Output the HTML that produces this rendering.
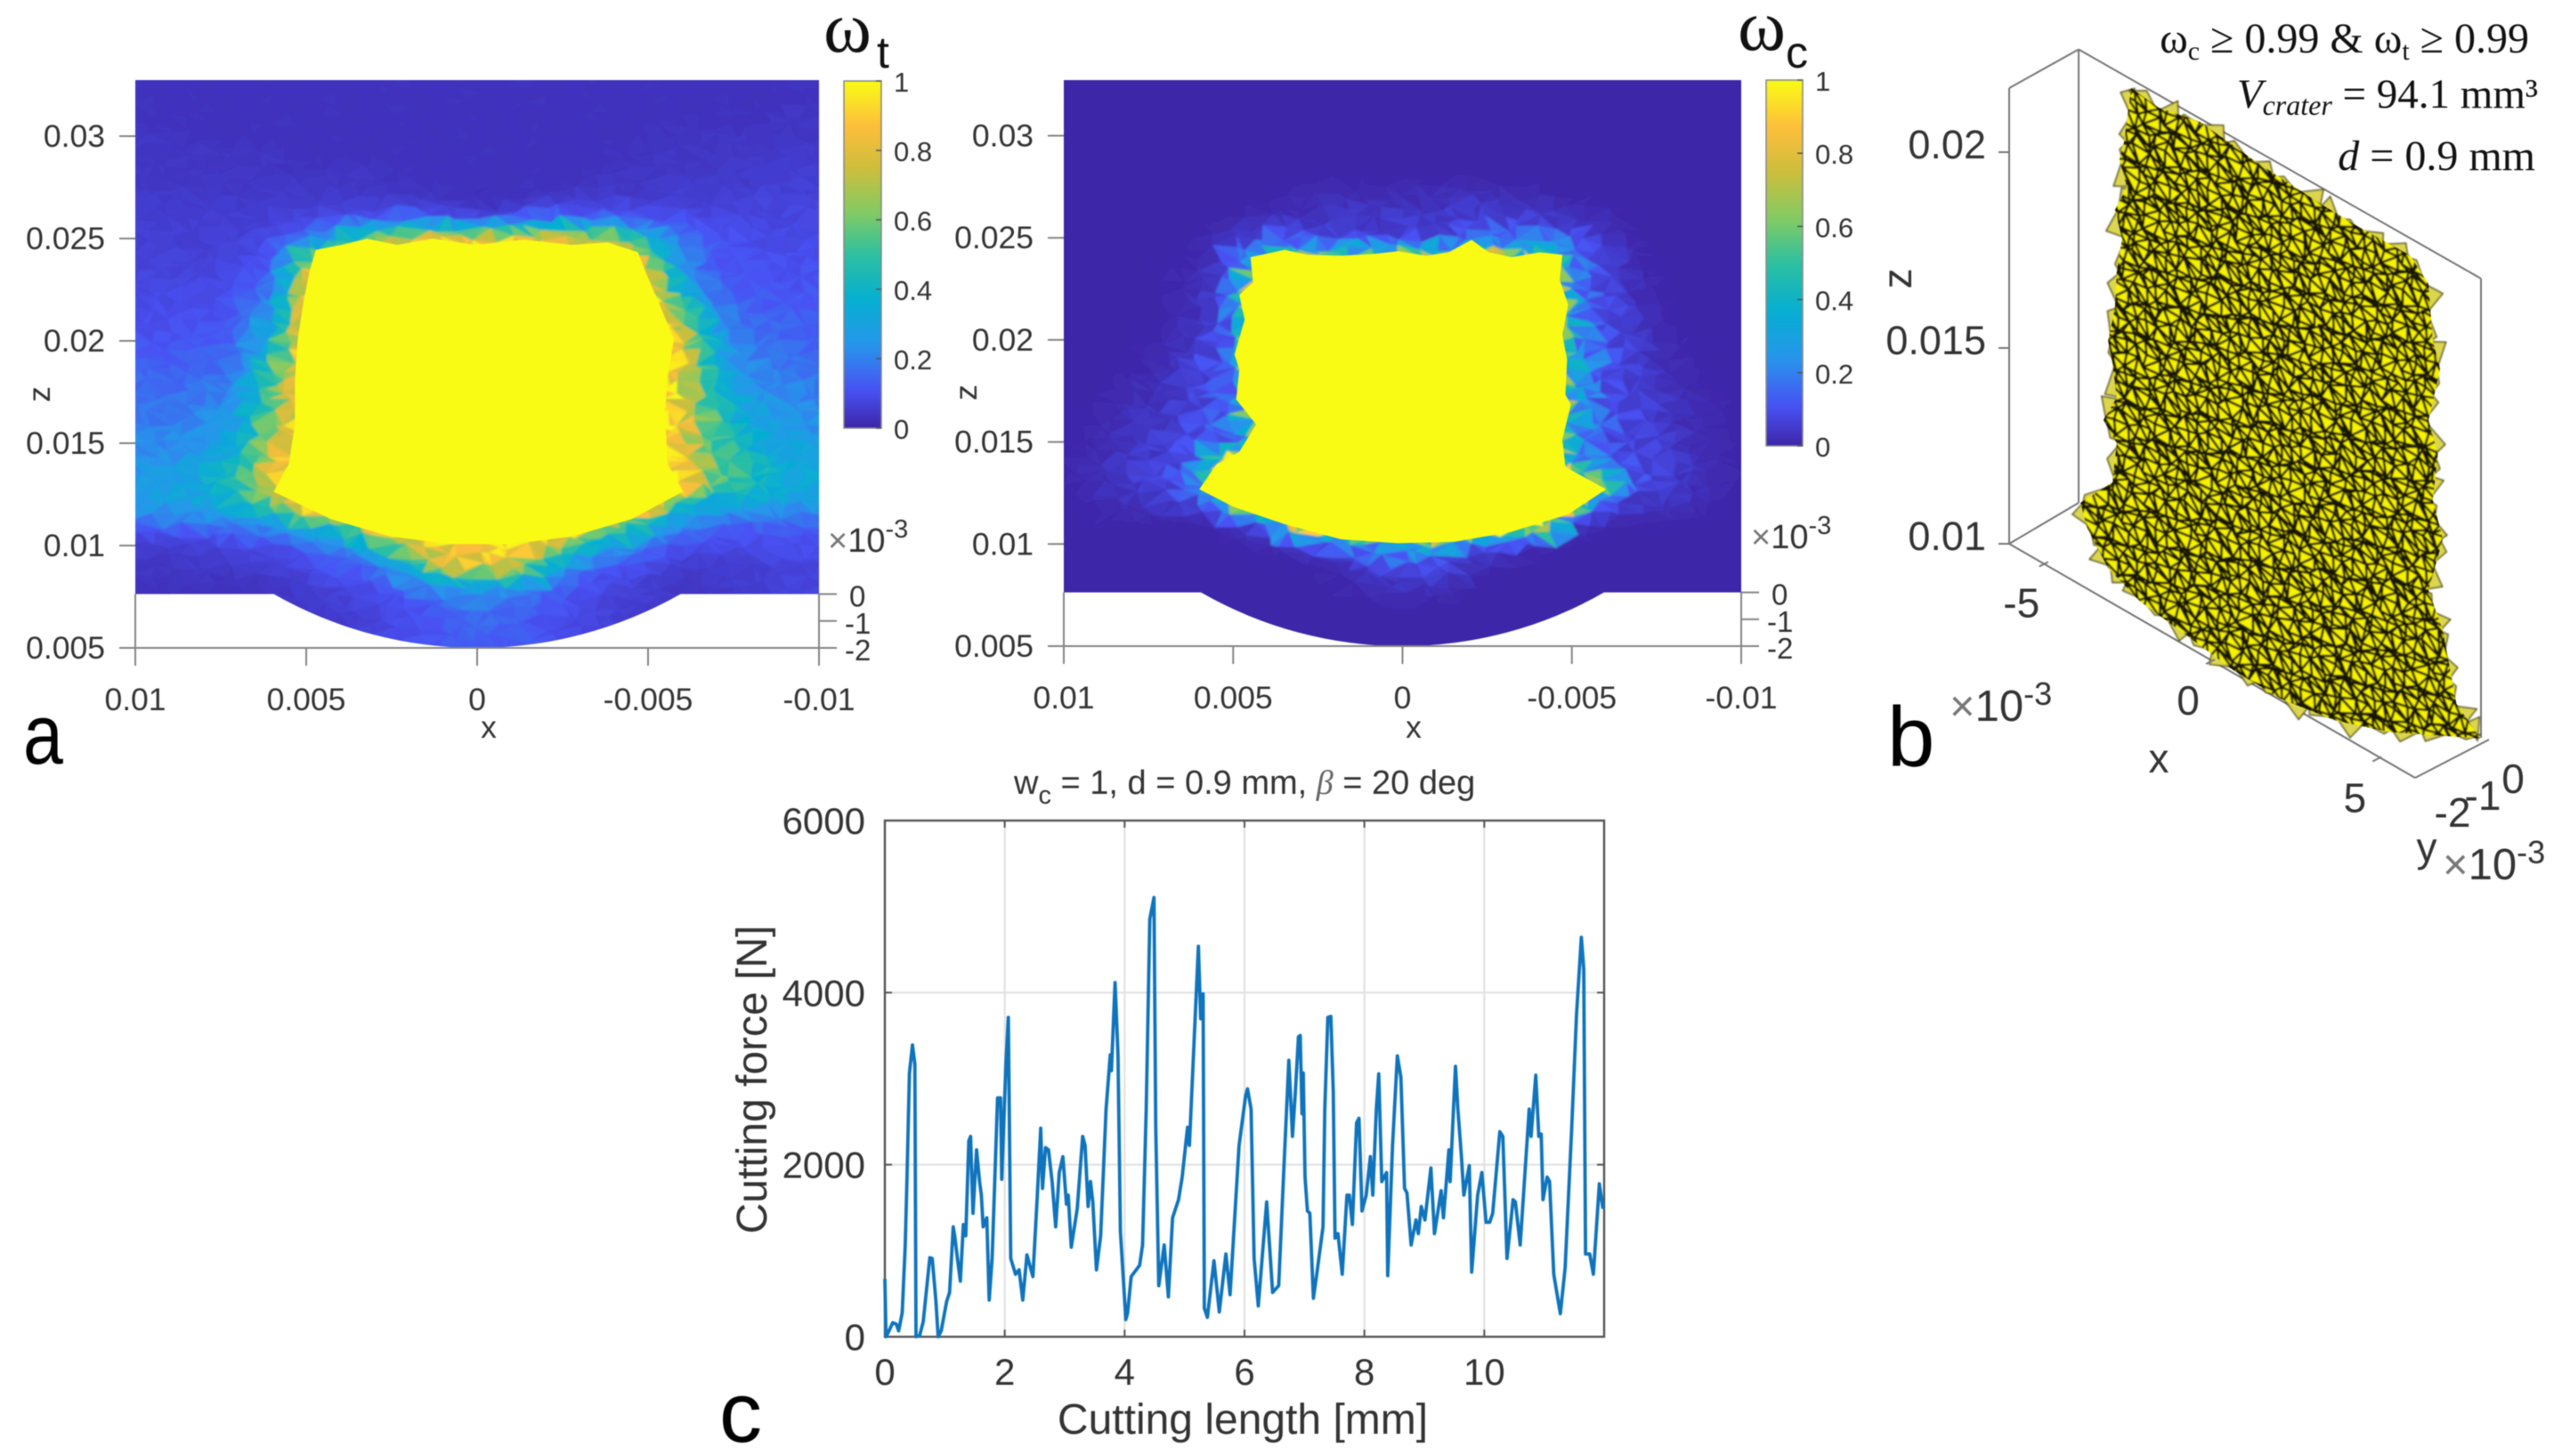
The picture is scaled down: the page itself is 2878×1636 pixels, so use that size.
<!DOCTYPE html>
<html lang="en">
<head>
<meta charset="utf-8">
<title>Damage maps, crater mesh and cutting force</title>
<style>
html,body{margin:0;padding:0;background:#fff;width:2878px;height:1636px;overflow:hidden}
svg{display:block;filter:blur(0.6px)}
text{font-family:"Liberation Sans",sans-serif;fill:#333}
.t35{font-size:35.5px}
.t31{font-size:31px}
.t33{font-size:33px}
.t38{font-size:38px}
.t46{font-size:46px}
.t45{font-size:45px}
.t49{font-size:49px}
.t42{font-size:42px}
.letter{font-size:96px;fill:#000}
.serif{font-family:"Liberation Serif",serif;fill:#111}
</style>
</head>
<body>
<svg id="figure" xmlns="http://www.w3.org/2000/svg" width="2878" height="1636" viewBox="0 0 2878 1636">
  <defs>
    <filter id="meshBlur" x="-5%" y="-5%" width="110%" height="110%"><feGaussianBlur stdDeviation="1.1"/></filter>
    <filter id="craterBlur" x="-5%" y="-5%" width="110%" height="110%"><feGaussianBlur stdDeviation="0.85"/></filter>
  </defs>
  <rect width="2878" height="1636" fill="#fff"/>

  <g id="panelA"></g>
  <g id="panelC"></g>
  <g id="panelB"></g>
  <g id="panelF"></g>

  <text class="serif" x="925" y="58" font-size="82">ω</text>
  <text x="985" y="76" font-size="50" style="fill:#111">t</text>
  <text class="serif" x="1952" y="56" font-size="82">ω</text>
  <text x="2006" y="76" font-size="50" style="fill:#111">c</text>

  <text class="letter" transform="translate(26,858) scale(0.84,1)">a</text>
  <text class="letter" x="2120" y="861">b</text>
  <text class="letter" x="808" y="1620">c</text>

  <text class="t35" x="549" y="829" text-anchor="middle">x</text>
  <text class="t35" transform="translate(56,443) rotate(-90)" text-anchor="middle">z</text>
  <text class="t35" x="1588" y="829" text-anchor="middle">x</text>
  <text class="t35" transform="translate(1097,441) rotate(-90)" text-anchor="middle">z</text>

  <text class="t38" x="930" y="620"><tspan fill="#777">×</tspan>10<tspan font-size="29" dy="-16">-3</tspan></text>
  <text class="t38" x="1967" y="616"><tspan fill="#777">×</tspan>10<tspan font-size="29" dy="-16">-3</tspan></text>

  <text class="serif" x="2841" y="59" text-anchor="end" font-size="48">ω<tspan font-size="30" dy="8">c</tspan><tspan dy="-8"> ≥ 0.99 &amp; ω</tspan><tspan font-size="30" dy="8">t</tspan><tspan dy="-8"> ≥ 0.99</tspan></text>
  <text class="serif" x="2851" y="121" text-anchor="end" font-size="47"><tspan font-style="italic">V</tspan><tspan font-style="italic" font-size="32" dy="8">crater</tspan><tspan dy="-8"> = 94.1 mm³</tspan></text>
  <text class="serif" x="2848" y="191" text-anchor="end" font-size="48"><tspan font-style="italic">d</tspan> = 0.9 mm</text>

  <text class="t46" transform="translate(2147,313) rotate(-90)" text-anchor="middle">z</text>
  <text class="t46" x="2425" y="868" text-anchor="middle">x</text>
  <text class="t46" x="2726" y="968" text-anchor="middle">y</text>
  <text class="t49" x="2190" y="810"><tspan fill="#777">×</tspan>10<tspan font-size="36" dy="-18">-3</tspan></text>
  <text class="t49" x="2744" y="988"><tspan fill="#777">×</tspan>10<tspan font-size="36" dy="-18">-3</tspan></text>

  <text x="1139" y="892" font-size="38">w<tspan font-size="29" dy="11">c</tspan><tspan dy="-11"> = 1, d = 0.9 mm,  </tspan><tspan font-style="italic" font-family="Liberation Serif" fill="#666">β</tspan> = 20 deg</text>
  <text font-size="48" transform="translate(861,1213) rotate(-90)" text-anchor="middle">Cutting force [N]</text>
  <text font-size="48" x="1396" y="1611" text-anchor="middle">Cutting length [mm]</text>
</svg>

<script>
// ---- damage maps: node coordinates (mm) ----
const gridXmm = [10,9,8,7,6,5,4,3,2,1,0,-1,-2,-3,-4,-5,-6,-7,-8,-9,-10];
const gridZmm = [33,32,31,30,29,28,27,26,25,24,23,22,21,20,19,18,17,16,15,14,13,12,11,10,9,8,7,6,5];

// tensile damage omega_t (percent) read per node
const tensileDamage = [
[3,3,3,3,3,3,3,3,3,3,3,3,3,3,3,3,3,3,3,3,3],
[3,3,3,3,3,3,3,3,3,3,3,3,3,3,3,3,3,3,3,3,4],
[3,3,3,3,3,3,3,3,3,3,3,3,3,3,3,3,3,3,3,4,4],
[4,4,3,3,3,3,3,3,3,3,3,3,3,3,3,3,4,4,4,4,4],
[4,4,4,4,4,3,3,3,3,3,3,3,3,3,3,4,4,4,5,5,5],
[4,4,4,4,4,4,4,4,3,3,3,3,3,3,4,4,5,5,5,6,6],
[5,5,5,5,5,5,5,4,4,4,2,3,4,5,5,5,6,6,7,7,7],
[6,6,6,6,6,8,9,11,12,10,6,10,12,14,13,10,9,8,8,8,8],
[6,6,6,7,9,16,35,62,78,85,85,85,82,78,62,35,18,12,9,9,9],
[7,7,7,8,11,60,100,100,100,100,100,100,100,100,100,70,18,12,10,10,10],
[8,8,8,9,16,75,100,100,100,100,100,100,100,100,100,90,25,13,11,11,11],
[9,9,9,11,22,85,100,100,100,100,100,100,100,100,100,100,45,16,13,12,12],
[10,10,10,13,30,90,100,100,100,100,100,100,100,100,100,100,70,22,15,14,13],
[11,11,12,15,35,95,100,100,100,100,100,100,100,100,100,100,80,28,18,15,14],
[13,13,14,17,45,95,100,100,100,100,100,100,100,100,100,100,85,33,20,17,16],
[15,15,16,21,55,95,100,100,100,100,100,100,100,100,100,100,85,38,23,20,18],
[17,17,19,26,58,95,100,100,100,100,100,100,100,100,100,100,85,43,28,23,20],
[19,20,22,30,60,95,100,100,100,100,100,100,100,100,100,100,85,48,33,26,22],
[21,22,25,33,72,95,100,100,100,100,100,100,100,100,100,100,80,50,36,30,26],
[23,25,30,42,80,100,100,100,100,100,100,100,100,100,100,100,85,58,42,36,30],
[27,28,35,48,90,100,100,100,100,100,100,100,100,100,100,100,100,55,45,38,33],
[28,28,32,38,55,100,100,100,100,100,100,100,100,100,100,100,35,32,30,27,25],
[14,14,16,18,25,38,50,100,100,100,100,100,100,100,60,38,20,14,13,13,13],
[5,5,6,8,9,14,20,40,72,90,90,90,82,40,28,16,10,8,9,10,10],
[4,4,5,5,6,8,12,16,38,78,85,78,42,15,12,8,5,5,6,7,8],
[3,3,3,3,4,6,8,10,15,22,28,25,17,10,8,6,4,5,6,7,8],
[3,3,3,3,4,5,6,8,10,14,18,14,12,9,7,5,4,4,5,6,6],
[3,3,3,3,3,4,5,8,9,12,14,14,10,8,6,4,4,4,4,4,4],
[3,3,3,3,3,4,6,9,10,12,13,13,11,9,7,4,4,4,4,4,4]
];

// compressive damage omega_c (percent) read per node
const compressiveDamage = [
[0,0,0,0,0,0,0,0,0,0,0,0,0,0,0,0,0,0,0,0,0],
[0,0,0,0,0,0,0,0,0,0,0,0,0,0,0,0,0,0,0,0,0],
[0,0,0,0,0,0,0,0,0,0,0,0,0,0,0,0,0,0,0,0,0],
[0,0,0,0,0,0,0,0,0,0,0,0,0,0,0,0,0,0,0,0,0],
[0,0,0,0,0,0,0,0,0,0,0,0,0,0,0,0,0,0,0,0,0],
[0,0,0,0,0,0,0,0,0,0,0,0,0,0,0,0,0,0,0,0,0],
[0,0,0,0,0,0,0,1,2,2,2,3,3,2,1,0,0,0,0,0,0],
[0,0,0,0,0,0,2,3,4,5,5,4,7,8,5,3,1,0,0,0,0],
[0,0,0,0,0,4,10,10,7,7,6,7,12,16,14,12,3,0,0,0,0],
[0,0,0,0,1,8,50,55,60,55,60,55,65,70,65,25,6,1,0,0,0],
[0,0,0,0,2,10,100,100,100,100,100,100,100,100,100,20,6,1,0,0,0],
[0,0,0,0,3,12,100,100,100,100,100,100,100,100,100,25,8,2,0,0,0],
[0,0,0,0,3,14,100,100,100,100,100,100,100,100,100,25,10,3,0,0,0],
[0,0,0,1,4,16,100,100,100,100,100,100,100,100,100,28,10,4,1,0,0],
[0,0,0,2,6,16,100,100,100,100,100,100,100,100,100,28,12,5,1,0,0],
[0,0,1,3,7,16,100,100,100,100,100,100,100,100,100,28,10,5,2,0,0],
[0,0,2,4,8,14,100,100,100,100,100,100,100,100,100,32,12,7,3,1,0],
[0,1,3,5,9,18,90,100,100,100,100,100,100,100,100,28,12,7,3,1,0],
[0,1,4,6,10,14,50,100,100,100,100,100,100,100,100,26,10,8,4,1,0],
[0,2,5,7,14,100,100,100,100,100,100,100,100,100,100,30,10,8,5,2,0],
[0,2,5,7,30,100,100,100,100,100,100,100,100,100,100,100,50,9,5,2,0],
[0,1,3,4,7,45,100,100,100,100,100,100,100,100,100,70,6,4,3,1,0],
[0,0,0,0,0,2,12,100,100,100,100,100,100,100,100,5,0,0,0,0,0],
[0,0,0,0,0,0,1,4,10,28,35,32,12,4,1,0,0,0,0,0,0],
[0,0,0,0,0,0,0,0,1,6,10,8,3,0,0,0,0,0,0,0,0],
[0,0,0,0,0,0,0,0,0,2,4,3,0,0,0,0,0,0,0,0,0],
[0,0,0,0,0,0,0,0,0,0,0,0,0,0,0,0,0,0,0,0,0],
[0,0,0,0,0,0,0,0,0,0,0,0,0,0,0,0,0,0,0,0,0],
[0,0,0,0,0,0,0,0,0,0,0,0,0,0,0,0,0,0,0,0,0]
];

// fully damaged region outlines (mm)
const tensileCoreX = [4.72,4.10,3.22,2.34,1.29,0.05,-1.36,-2.76,-3.82,-4.70,-4.96,-5.40,-5.76,-5.58,-5.49,-5.58,-6.02,-4.52,-2.76,-1.0,0.76,2.52,4.28,5.95,5.51,5.33,5.33,5.25,5.07,4.89];
const tensileCoreZ = [24.45,24.64,24.99,24.69,24.99,24.69,24.94,24.69,24.81,24.33,23.23,21.52,20.06,18.36,16.41,13.97,12.63,11.29,10.44,10.07,10.07,10.44,11.29,12.63,13.97,15.92,18.11,20.06,22.01,23.47];
const compressiveCoreX = [4.49,3.48,2.81,1.81,0.80,0.13,-0.70,-1.37,-2.04,-2.55,-3.22,-4.05,-4.72,-4.64,-4.89,-4.72,-4.86,-4.81,-4.97,-4.72,-4.81,-6.01,-4.89,-3.22,-1.54,0.13,1.81,3.48,4.99,6.0,5.49,4.82,4.32,4.91,4.82,4.96,4.66,4.82,4.41];
const compressiveCoreZ = [24.05,24.41,24.17,24.12,24.22,24.34,24.12,24.29,24.90,24.29,24.05,24.29,24.17,22.95,21.72,20.26,19.03,17.32,16.83,15.12,13.78,12.68,11.45,10.60,10.11,10.04,10.23,10.97,11.82,12.68,13.90,14.51,15.86,17.08,18.55,19.28,20.99,22.21,22.82];

const damageXTicks = [0.01,0.005,0,-0.005,-0.01];
const damageXLabels = ['0.01','0.005','0','-0.005','-0.01'];
const damageZTicks = [0.03,0.025,0.02,0.015,0.01,0.005];
const damageZLabels = ['0.03','0.025','0.02','0.015','0.01','0.005'];
const depthTicks = [0,-1,-2];
const depthLabels = ['0','-1','-2'];
const colorbarTicks = [1,0.8,0.6,0.4,0.2,0];
const colorbarLabels = ['1','0.8','0.6','0.4','0.2','0'];

// ---- crater surface outline (x mm, z mm) ----
const craterX = [-4.48,-4.69,-4.83,-4.61,-4.96,-4.75,-4.91,-4.96,-5.17,-5.04,-4.91,-5.31,-4.91,-5.04,-6,-5.8,-5.17,-4.2,-2.8,-1.41,-0.02,1.66,3.32,6,5.28,4.87,4.44,4.87,4.57,4.72,4.44,4.79,4.57,4.44,3.88,2.36,1.24,-0.85,-2.4,-3.65];
const craterZ = [24.03,22.55,22.03,21.43,20.68,20.05,19.11,18.21,17.23,16.73,15.91,15.14,14.75,13.68,12.68,12.14,11.43,11.05,10.88,10.69,10.66,10.93,11.46,12.64,13.16,14.84,15.64,17.16,18.02,19.26,19.99,21.47,22.08,23.47,23.92,23.88,23.9,24.02,24.2,23.94];
const craterZTicks = [0.02,0.015,0.01];
const craterZLabels = ['0.02','0.015','0.01'];
const craterXTicks = [-5,0,5];
const craterXLabels = ['-5','0','5'];
const craterYLabels = ['0','-1','-2'];
const meshNudge = [0.31,-0.22,0.08,-0.36,0.17,0.38,-0.12,-0.29,0.24,-0.05,0.34,-0.38,0.12,0.27,-0.18,-0.33,0.02,0.36,-0.25,0.2,-0.08,0.29,-0.15];

// ---- cutting force trace ----
const cuttingLength = [0,0.02,0.07,0.13,0.19,0.23,0.29,0.34,0.37,0.41,0.46,0.50,0.52,0.58,0.64,0.75,0.79,0.85,0.89,0.94,1.03,1.08,1.14,1.17,1.21,1.26,1.31,1.35,1.40,1.43,1.47,1.53,1.58,1.61,1.64,1.70,1.74,1.79,1.88,1.93,1.95,2.02,2.06,2.10,2.18,2.24,2.30,2.37,2.47,2.54,2.60,2.63,2.68,2.73,2.79,2.85,2.91,2.97,3.03,3.06,3.11,3.21,3.30,3.34,3.39,3.43,3.47,3.53,3.60,3.69,3.76,3.78,3.84,3.89,3.93,4.02,4.05,4.11,4.25,4.30,4.36,4.42,4.49,4.52,4.57,4.66,4.73,4.80,4.90,4.96,5.05,5.08,5.23,5.27,5.31,5.33,5.38,5.49,5.58,5.69,5.76,5.91,6.02,6.05,6.11,6.16,6.23,6.37,6.47,6.57,6.65,6.74,6.80,6.85,6.90,6.93,6.96,6.98,7.01,7.05,7.09,7.15,7.20,7.31,7.34,7.39,7.44,7.48,7.51,7.56,7.63,7.71,7.75,7.80,7.87,7.91,7.96,8.03,8.10,8.14,8.20,8.24,8.29,8.37,8.39,8.47,8.55,8.61,8.67,8.71,8.78,8.86,8.90,8.95,9.01,9.11,9.17,9.28,9.32,9.41,9.43,9.52,9.56,9.62,9.66,9.75,9.79,9.89,9.96,10.03,10.09,10.14,10.26,10.31,10.38,10.48,10.52,10.60,10.67,10.75,10.78,10.86,10.91,10.95,10.98,11.05,11.09,11.16,11.27,11.35,11.46,11.54,11.62,11.66,11.69,11.76,11.82,11.92,11.98];
const cuttingForce = [673,0,68,163,147,68,279,1067,1856,3065,3391,3171,0,16,174,920,910,436,0,68,410,515,1278,1146,910,647,1304,1173,2277,2329,1435,2172,1803,1646,1278,1383,426,910,2776,2776,1830,3171,3712,910,726,778,426,952,699,1593,2424,1725,2198,2172,1803,1278,1909,2093,1541,1646,1041,1488,2329,2224,1514,1803,1567,778,1173,2645,3276,3092,4117,3276,1225,200,279,699,831,1067,2645,4853,5105,2434,594,1067,463,1383,1593,1856,2434,2224,4538,3696,3985,331,226,883,289,962,489,2224,2803,2881,2645,910,358,1567,515,594,1856,3213,2329,2855,3486,3502,2592,3065,1856,1462,1435,447,699,1278,2645,3712,3723,2855,1146,1199,726,1646,1646,1304,2487,2540,1462,1646,2093,1646,2645,3055,1803,1909,710,2224,3265,3013,1725,1672,1067,1357,1199,1514,1357,1961,1199,1698,1383,2172,1803,3144,2645,2093,1646,1988,752,1646,1909,1330,1330,1435,2382,2329,910,1593,1567,1067,1803,2645,2329,3039,2329,2356,1593,1856,1803,726,268,804,2434,3749,4643,4275,962,962,726,1777,1488];
const forceXTicks = [0,2,4,6,8,10];
const forceXLabels = ['0','2','4','6','8','10'];
const forceYTicks = [0,2000,4000,6000];
const forceYLabels = ['0','2000','4000','6000'];

const NS = 'http://www.w3.org/2000/svg';
function make(tag, attrs, parent, text) {
  const n = document.createElementNS(NS, tag);
  for (const k in attrs) n.setAttribute(k, attrs[k]);
  if (text !== undefined) n.textContent = text;
  parent.appendChild(n);
  return n;
}

const parulaPos = [0,0.11,0.24,0.37,0.5,0.62,0.75,0.87,1];
const parulaRGB = [[62,38,168],[72,82,244],[39,150,235],[6,175,210],[46,192,160],[130,203,100],[205,190,60],[253,190,60],[249,251,20]];
function parula(t) {
  t = Math.max(0, Math.min(1, t));
  let i = 0;
  while (i < parulaPos.length - 2 && t > parulaPos[i + 1]) i++;
  const f = (t - parulaPos[i]) / (parulaPos[i + 1] - parulaPos[i]);
  const c = [0,1,2].map(k => Math.round(parulaRGB[i][k] + f * (parulaRGB[i + 1][k] - parulaRGB[i][k])));
  return 'rgb(' + c.join(',') + ')';
}

// bilinear lookup into a node table, so small display triangles take their shade from the read nodes
function sampleGrid(grid, xmm, zmm) {
  const cf = Math.max(0, Math.min(gridXmm.length - 1.001, gridXmm[0] - xmm));
  const rf = Math.max(0, Math.min(gridZmm.length - 1.001, gridZmm[0] - zmm));
  const c = Math.floor(cf), r = Math.floor(rf), u = cf - c, v = rf - r;
  return (grid[r][c] * (1 - u) + grid[r][c + 1] * u) * (1 - v) + (grid[r + 1][c] * (1 - u) + grid[r + 1][c + 1] * u) * v;
}

function drawDamagePanel(cfg) {
  const root = document.getElementById(cfg.root);
  const sx = mm => cfg.left + (10 - mm) * (cfg.right - cfg.left) / 20;
  const sz = mm => cfg.bottom - (mm - 5) * cfg.zScale;
  const clipId = cfg.root + 'Clip';

  const chordL = sx(5.95), chordR = sx(-5.95), flat = sz(7.63);
  const half = (chordR - chordL) / 2, sag = cfg.bottom - flat;
  const R = (half * half + sag * sag) / (2 * sag);
  const clip = make('clipPath', {id: clipId}, root);
  const clipShape = make('path', {d: 'M' + cfg.left + ' ' + cfg.top + 'H' + cfg.right + 'V' + flat + 'H' + chordR + 'A' + R + ' ' + R + ' 0 0 1 ' + chordL + ' ' + flat + 'H' + cfg.left + 'Z'}, clip);
  
  

  const clipped = make('g', {'clip-path': 'url(#' + clipId + ')'}, root);
  
  
  const blurred = make('g', {filter: 'url(#meshBlur)'}, clipped);
  
  

  const under = make('rect', {x: cfg.left - 30, y: cfg.top - 30, width: cfg.right - cfg.left + 60, height: cfg.bottom - cfg.top + 60, fill: parula(cfg.grid[0][10] / 100)}, blurred);
  
  

  // irregular display triangles, half a node spacing wide
  const L = meshNudge.length, h = 0.5;
  const nodes = {};
  const node = (i, j) => {
    const key = i + '_' + j;
    if (!nodes[key]) nodes[key] = [
      -10.5 + (i + meshNudge[(i * 7 + j * 13) % L]) * h,
      4.5 + (j + meshNudge[(i * 11 + j * 5) % L]) * h
    ];
    return nodes[key];
  };
  for (let i = 0; i < 44; i++) {
    for (let j = 0; j < 60; j++) {
      const a = node(i, j), b = node(i + 1, j), c = node(i + 1, j + 1), d = node(i, j + 1);
      const faces = (i * 3 + j * 5) % 7 < 4 ? [[a, b, c], [a, c, d]] : [[a, b, d], [b, c, d]];
      faces.forEach((tri, k) => {
        const mean = tri.reduce((s, p) => s + sampleGrid(cfg.grid, p[0], p[1]), 0) / 300;
        const shade = mean * (1 + cfg.patchiness * meshNudge[(i * 5 + j * 3 + k * 9) % L]);
        const col = parula(shade);
        const pts = tri.map(p => sx(p[0]).toFixed(1) + ',' + sz(p[1]).toFixed(1)).join(' ');
        const cell = make('polygon', {points: pts, fill: col, stroke: col, 'stroke-width': 0.6}, blurred);
        
        
      });
    }
  }
  const corePts = cfg.coreX.map((x, i) => sx(x).toFixed(1) + ',' + sz(cfg.coreZ[i]).toFixed(1)).join(' ');
  const core = make('polygon', {points: corePts, fill: parula(1)}, clipped);
  
  

  const axisColor = '#858585';
  const baseLine = make('line', {x1: cfg.left, x2: cfg.right, y1: cfg.bottom, y2: cfg.bottom, stroke: axisColor, 'stroke-width': 2}, root);
  
  
  const leftLine = make('line', {x1: cfg.left, x2: cfg.left, y1: flat, y2: cfg.bottom + 20, stroke: axisColor, 'stroke-width': 2}, root);
  
  
  const rightLine = make('line', {x1: cfg.right, x2: cfg.right, y1: flat, y2: cfg.bottom + 20, stroke: axisColor, 'stroke-width': 2}, root);
  
  

  damageXTicks.forEach((v, i) => {
    const x = sx(v * 1000);
    const tick = make('line', {x1: x, x2: x, y1: cfg.bottom, y2: cfg.bottom + 20, stroke: axisColor, 'stroke-width': 2}, root);
    
    
    const label = make('text', {x: x, y: cfg.bottom + 70, 'text-anchor': 'middle', class: 't35'}, root, damageXLabels[i]);
    
    
  });
  damageZTicks.forEach((v, i) => {
    const y = sz(v * 1000);
    const tick = make('line', {x1: cfg.left - 18, x2: cfg.left, y1: y, y2: y, stroke: axisColor, 'stroke-width': 2}, root);
    
    
    const label = make('text', {x: cfg.left - 34, y: y + 12, 'text-anchor': 'end', class: 't35'}, root, damageZLabels[i]);
    
    
  });
  const depthScale = (cfg.bottom - flat) / 2;
  depthTicks.forEach((v, i) => {
    const y = flat - v * depthScale;
    const tick = make('line', {x1: cfg.right, x2: cfg.right + 20, y1: y, y2: y, stroke: axisColor, 'stroke-width': 2}, root);
    
    
    const label = make('text', {x: cfg.right + 32 - (v < 0 ? 3 : -2), y: y + 14, class: 't33'}, root, depthLabels[i]);
    
    
  });

  const gradId = cfg.root + 'Grad';
  const grad = make('linearGradient', {id: gradId, x1: 0, x2: 0, y1: 1, y2: 0}, root);
  for (let s = 0; s <= 40; s++) make('stop', {offset: s / 40, 'stop-color': parula(s / 40)}, grad);
  const bar = make('rect', {x: cfg.barLeft, y: cfg.barTop, width: cfg.barWidth, height: cfg.barBottom - cfg.barTop, fill: 'url(#' + gradId + ')', stroke: '#888', 'stroke-width': 1.5}, root);
  
  
  colorbarTicks.forEach((v, i) => {
    const y = cfg.barBottom - v * (cfg.barBottom - cfg.barTop);
    const tick = make('line', {x1: cfg.barLeft + cfg.barWidth - 6, x2: cfg.barLeft + cfg.barWidth, y1: y, y2: y, stroke: '#555', 'stroke-width': 1.5}, root);
    
    
    const label = make('text', {x: cfg.barLeft + cfg.barWidth + 14, y: y + 12, class: 't31'}, root, colorbarLabels[i]);
    
    
  });
}

drawDamagePanel({root: 'panelA', left: 152, right: 920, top: 90, bottom: 728, zScale: 23, grid: tensileDamage, coreX: tensileCoreX, coreZ: tensileCoreZ, barLeft: 948, barWidth: 42, barTop: 91, barBottom: 481, patchiness: 0.35});
drawDamagePanel({root: 'panelC', left: 1195, right: 1956, top: 90, bottom: 726, zScale: 22.94, grid: compressiveDamage, coreX: compressiveCoreX, coreZ: compressiveCoreZ, barLeft: 1984, barWidth: 41, barTop: 90, barBottom: 501, patchiness: 1.2});

// ---- panel b: oblique projection of the crater surface ----
function craterPx(x) { return 2337 + 37.45 * (x + 6); }
function craterPy(x, z) { return 565 + 21.9 * (x + 6) - 44 * (z - 12.68); }
(function () {
  const root = document.getElementById('panelB');
  const P = (x, z) => craterPx(x).toFixed(1) + ',' + craterPy(x, z).toFixed(1);

  const boxLines = [[2335,55.5,2257,99],[2335,55.5,2787,313],[2335,55.5,2335,565],[2257,99,2257,611],[2787,313,2787,829],[2257,611,2713,874],[2257,611,2335,565],[2713,874,2796,831]];
  boxLines.forEach(b => {
    const edge = make('line', {x1: b[0], y1: b[1], x2: b[2], y2: b[3], stroke: '#777', 'stroke-width': 2}, root);
    
    
  });

  // pale boundary elements poking out along the outline, of uneven size
  const fringe = make('g', {filter: 'url(#craterBlur)'}, root);
  
  
  const L = meshNudge.length;
  let toothIdx = 0;
  craterX.forEach((x, i) => {
    const j = (i + 1) % craterX.length;
    const x0 = craterPx(x), y0 = craterPy(x, craterZ[i]);
    const x1 = craterPx(craterX[j]), y1 = craterPy(craterX[j], craterZ[j]);
    const len = Math.hypot(x1 - x0, y1 - y0);
    const n = Math.max(1, Math.round(len / 30));
    const nx = -(y1 - y0) / len, ny = (x1 - x0) / len;
    for (let k = 0; k < n; k++) {
      const a = k / n, b = (k + 1) / n;
      const m = a + (b - a) * (0.5 + meshNudge[(toothIdx + 7) % L]);
      const amp = 2 + 46 * Math.pow(Math.abs(meshNudge[toothIdx % L]), 2) * 2;
      const pts = [
        [x0 + (x1 - x0) * a - nx * 4, y0 + (y1 - y0) * a - ny * 4],
        [x0 + (x1 - x0) * b - nx * 4, y0 + (y1 - y0) * b - ny * 4],
        [x0 + (x1 - x0) * m + nx * amp, y0 + (y1 - y0) * m + ny * amp]
      ].map(p => p[0].toFixed(1) + ',' + p[1].toFixed(1)).join(' ');
      toothIdx++;
      const tooth = make('polygon', {points: pts, fill: '#dcd550', stroke: '#3a3800', 'stroke-width': 1.4}, fringe);
      
      
    }
  });

  const clip = make('clipPath', {id: 'craterClip'}, root);
  const outline = make('polygon', {points: craterX.map((x, i) => P(x, craterZ[i])).join(' ')}, clip);
  
  

  const clipped = make('g', {'clip-path': 'url(#craterClip)'}, root);
  
  
  const mesh = make('g', {filter: 'url(#craterBlur)'}, clipped);
  
  

  const minX = Math.min(...craterX) - 0.5, maxX = Math.max(...craterX) + 0.5;
  const minZ = Math.min(...craterZ) - 0.5, maxZ = Math.max(...craterZ) + 0.5;
  const stepX = 0.31, stepZ = 0.27;
  const cols = Math.ceil((maxX - minX) / stepX), rows = Math.ceil((maxZ - minZ) / stepZ);
  const node = (i, j) => P(minX + (i + meshNudge[(i * 7 + j * 13) % L]) * stepX, minZ + (j + meshNudge[(i * 11 + j * 5) % L]) * stepZ);
  for (let i = 0; i < cols; i++) {
    for (let j = 0; j < rows; j++) {
      const a = node(i, j), b = node(i + 1, j), c = node(i + 1, j + 1), d = node(i, j + 1);
      const faces = (i * 3 + j * 5) % 7 < 4 ? [[a, b, c], [a, c, d]] : [[a, b, d], [b, c, d]];
      faces.forEach(f => {
        const face = make('polygon', {points: f.join(' '), fill: '#f7f200', stroke: '#141200', 'stroke-width': 2.6, 'stroke-linejoin': 'round'}, mesh);
        
        
      });
    }
  }

  craterZTicks.forEach((v, i) => {
    const y = 611 - (v * 1000 - 10) * 44;
    const tick = make('line', {x1: 2245, x2: 2257, y1: y, y2: y, stroke: '#777', 'stroke-width': 2}, root);
    
    
    const label = make('text', {x: 2231, y: y + 7, 'text-anchor': 'end', class: 't45'}, root, craterZLabels[i]);
    
    
  });
  craterXTicks.forEach((v, i) => {
    const tx = 2478 + 37.45 * v, ty = 746 + 21.9 * v;
    const tick = make('line', {x1: tx, y1: ty, x2: tx + 10, y2: ty - 5, stroke: '#777', 'stroke-width': 2}, root);
    
    
    const label = make('text', {x: tx - 20, y: ty + 57, 'text-anchor': 'middle', class: 't46'}, root, craterXLabels[i]);
    
    
  });
  craterYLabels.forEach((t, i) => {
    const label = make('text', {x: 2823 - i * 34, y: 891 + i * 19, 'text-anchor': 'middle', class: 't46'}, root, t);
    
    
  });
})();

// ---- panel c: cutting force ----
const fX = v => 994 + v * (1802 - 994) / 12;
const fY = v => 1502 - v * (1502 - 922) / 6000;
(function () {
  const root = document.getElementById('panelF');
  const plot = make('rect', {x: 994, y: 922, width: 808, height: 580, fill: '#fff'}, root);
  
  

  forceXTicks.forEach((v, i) => {
    if (v > 0) {
      const grid = make('line', {x1: fX(v), x2: fX(v), y1: 922, y2: 1502, stroke: '#e2e2e2', 'stroke-width': 2.2}, root);
      
      
    }
    const label = make('text', {x: fX(v), y: 1556, 'text-anchor': 'middle', class: 't42'}, root, forceXLabels[i]);
    
    
    const tickB = make('line', {x1: fX(v), x2: fX(v), y1: 1502, y2: 1494, stroke: '#555', 'stroke-width': 2}, root);
    
    
    const tickT = make('line', {x1: fX(v), x2: fX(v), y1: 922, y2: 930, stroke: '#555', 'stroke-width': 2}, root);
    
    
  });
  forceYTicks.forEach((v, i) => {
    if (v > 0 && v < 6000) {
      const grid = make('line', {x1: 994, x2: 1802, y1: fY(v), y2: fY(v), stroke: '#e2e2e2', 'stroke-width': 2.2}, root);
      
      
    }
    const label = make('text', {x: 972, y: fY(v) + 15, 'text-anchor': 'end', class: 't42'}, root, forceYLabels[i]);
    
    
    const tickL = make('line', {x1: 994, x2: 1002, y1: fY(v), y2: fY(v), stroke: '#555', 'stroke-width': 2}, root);
    
    
    const tickR = make('line', {x1: 1802, x2: 1794, y1: fY(v), y2: fY(v), stroke: '#555', 'stroke-width': 2}, root);
    
    
  });
  const box = make('rect', {x: 994, y: 922, width: 808, height: 580, fill: 'none', stroke: '#555', 'stroke-width': 2.4}, root);
  
  

  const pts = cuttingLength.map((x, i) => fX(x).toFixed(1) + ',' + fY(cuttingForce[i]).toFixed(1)).join(' ');
  const trace = make('polyline', {points: pts, fill: 'none', stroke: '#0f74bd', 'stroke-width': 3.8, 'stroke-linejoin': 'round'}, root);
  
  
})();
</script>
</body>
</html>
